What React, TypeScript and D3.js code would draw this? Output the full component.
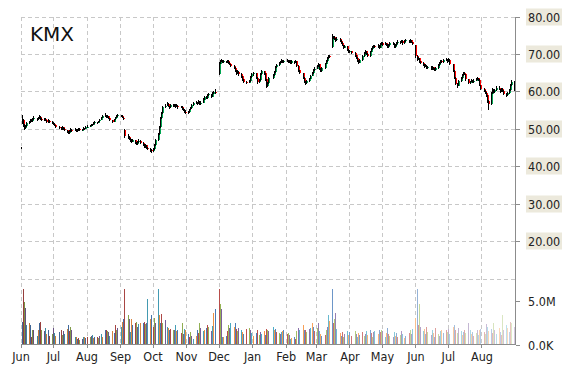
import React from "react"
import * as d3 from "d3"

const W = 570, H = 370
const X0 = 21, X1 = 515.5
const PRICE_TOP = 16.5, PRICE_BOTTOM = 278.5
const VOL_TOP = 278.5, VOL_BOTTOM = 344.5

const title = "KMX"
const monthKeys = [
  "2014-06", "2014-07", "2014-08", "2014-09", "2014-10", "2014-11", "2014-12",
  "2015-01", "2015-02", "2015-03", "2015-04", "2015-05", "2015-06", "2015-07", "2015-08",
]
const holidays = [
  "2014-07-04", "2014-09-01", "2014-11-27", "2014-12-25", "2015-01-01",
  "2015-01-19", "2015-02-16", "2015-04-03", "2015-05-25", "2015-07-03",
]

// open high low close, one string per month, one entry per trading day
const priceByMonth = [
  `51.4 53.8 51.2 52.5, 52.4 52.6 50.6 51.0, 51.0 51.2 49.6 50.2, 50.1 51.1 49.9 50.8, 50.8 51.8 50.6 51.5,
   51.5 52.1 51.2 51.8, 51.9 52.6 51.6 52.3, 52.3 52.5 51.7 52.0, 52.0 52.9 51.9 52.6, 52.6 53.3 52.4 52.9,
   52.9 53.0 52.2 52.5, 52.5 53.1 52.3 52.8, 52.8 53.6 52.6 53.2, 53.2 53.3 52.4 52.7, 52.7 52.9 52.1 52.4,
   52.4 52.9 52.2 52.6, 52.6 52.8 52.0 52.3, 52.3 52.4 51.5 51.8, 51.8 52.5 51.6 52.2, 52.2 52.3 51.6 51.9,
   51.9 52.0 51.3 51.6`,
  `51.6 51.8 51.0 51.3, 51.3 51.5 50.7 51.0, 51.0 51.1 50.3 50.6, 50.6 50.8 50.0 50.3, 50.3 50.6 49.7 50.0,
   50.0 50.7 49.8 50.4, 50.4 50.5 49.6 49.9, 49.9 50.1 49.3 49.6, 49.6 49.8 48.9 49.2, 49.2 49.4 48.5 48.9,
   48.9 49.7 48.7 49.4, 49.4 50.1 49.2 49.8, 49.8 50.0 49.2 49.5, 49.5 50.2 49.3 49.9, 49.9 50.0 49.1 49.4,
   49.4 49.9 49.2 49.7, 49.7 50.3 49.5 50.0, 50.0 50.1 49.3 49.6, 49.6 50.0 49.4 49.8, 49.8 50.5 49.6 50.2,
   50.2 50.3 49.7 50.0, 50.0 50.7 49.9 50.4`,
  `50.4 50.9 50.2 50.6, 50.6 51.1 50.4 50.9, 50.9 51.4 50.7 51.2, 51.2 51.3 50.7 51.0, 51.0 51.7 50.9 51.5,
   51.5 52.0 51.3 51.8, 51.8 51.9 51.3 51.6, 51.6 52.2 51.5 52.0, 52.0 52.6 51.9 52.4, 52.4 53.1 52.3 52.9,
   52.9 53.6 52.8 53.3, 53.3 54.1 53.1 53.6, 53.6 53.7 52.9 53.1, 53.1 53.6 52.9 53.4, 53.4 53.5 52.6 52.8,
   52.8 52.9 52.0 52.3, 52.3 52.4 51.6 51.9, 51.9 52.7 51.8 52.5, 52.5 53.2 52.4 53.0, 53.0 53.6 52.9 53.4,
   53.4 53.9 53.2 53.6`,
  `53.6 53.8 53.1 53.4, 53.4 53.6 52.8 53.0, 53.0 53.2 52.3 52.6, 49.6 49.9 47.6 48.2, 48.2 48.5 47.4 47.8,
   47.8 48.0 47.0 47.3, 47.3 47.6 46.6 47.0, 47.0 47.2 46.2 46.6, 46.6 47.3 46.4 46.9, 46.9 47.0 46.0 46.4,
   46.4 46.6 45.6 46.0, 46.0 46.8 45.8 46.5, 46.5 47.2 46.3 46.8, 46.8 46.9 46.0 46.3, 46.3 46.4 45.5 45.8,
   45.8 45.9 44.9 45.2, 45.2 45.9 45.0 45.6, 45.6 45.7 44.7 45.0, 45.0 45.2 44.2 44.7, 44.7 44.9 43.7 44.3,
   44.3 44.6 43.4 44.0`,
  `44.0 44.8 43.8 44.5, 44.5 45.9 44.3 45.6, 45.6 47.3 45.5 47.0, 47.0 48.8 46.8 48.5, 48.5 50.8 48.3 50.5,
   50.5 53.1 50.3 52.8, 52.8 54.5 52.6 54.2, 54.2 56.1 54.0 55.8, 55.8 56.6 55.5 56.2, 56.2 57.1 56.0 56.6,
   56.6 56.8 55.7 56.0, 56.0 56.2 55.4 55.8, 55.8 56.6 55.6 56.3, 56.3 56.5 55.7 56.0, 56.0 56.7 55.8 56.4,
   56.4 56.5 55.6 55.9, 55.9 56.5 55.7 56.2, 56.2 56.3 55.4 55.7, 55.7 56.2 55.5 55.9, 55.9 56.0 55.1 55.4,
   55.4 55.5 54.7 55.0, 55.0 55.2 54.2 54.6, 54.6 54.9 53.9 54.3`,
  `54.3 54.8 54.0 54.5, 54.5 55.4 54.3 55.2, 55.2 55.9 55.0 55.6, 55.6 56.6 55.4 56.3, 56.3 57.1 56.1 56.8,
   56.8 57.4 56.6 57.1, 57.1 57.2 56.4 56.7, 56.7 57.6 56.5 57.3, 57.3 57.4 56.3 56.6, 56.6 57.3 56.4 57.0,
   57.0 58.1 56.9 57.8, 57.8 58.8 57.6 58.5, 58.5 58.7 57.9 58.2, 58.2 59.2 58.0 58.9, 58.9 59.6 58.7 59.2,
   59.2 59.3 58.3 58.6, 58.6 59.7 58.5 59.4, 59.4 60.2 59.2 59.8, 59.8 60.5 59.3 59.5`,
  `64.7 67.8 64.5 67.4, 67.4 68.5 67.2 68.2, 68.2 68.7 67.8 68.3, 68.3 68.4 67.6 67.9, 67.9 68.4 67.7 68.1,
   68.1 68.2 67.5 67.8, 67.8 68.5 67.6 68.2, 68.2 68.3 67.3 67.6, 67.6 67.8 67.0 67.3, 67.3 67.4 66.5 66.8,
   66.8 67.0 65.9 66.2, 66.2 66.4 65.2 65.5, 65.5 65.7 64.5 64.8, 64.8 65.6 64.6 65.3, 65.3 65.4 64.2 64.6,
   64.6 64.8 63.7 64.0, 64.0 64.2 62.9 63.2, 63.2 63.4 62.3 62.6, 62.6 62.9 61.9 62.3, 62.3 63.1 62.1 62.8,
   62.8 64.2 62.6 63.9, 63.9 64.9 63.7 64.6`,
  `64.6 65.3 64.2 64.9, 64.9 65.0 63.3 63.6, 63.6 63.8 62.0 62.4, 62.4 63.4 62.2 63.1, 63.1 64.9 62.9 64.6,
   64.6 65.8 64.4 65.4, 65.4 65.5 64.5 64.8, 64.8 65.0 62.9 63.2, 63.2 63.4 60.8 61.4, 61.4 62.5 61.2 62.2,
   62.2 63.9 62.0 63.6, 63.6 64.6 63.4 64.3, 64.3 65.5 64.1 65.2, 65.2 66.7 65.0 66.4, 66.4 67.4 66.2 67.1,
   67.1 67.9 66.9 67.6, 67.6 68.2 67.3 67.9, 67.9 68.6 67.7 68.3, 68.3 68.4 67.5 67.8, 67.8 68.4 67.6 68.1`,
  `68.1 68.7 67.9 68.4, 68.4 68.5 67.6 67.9, 67.9 68.5 67.7 68.2, 68.2 68.3 67.3 67.6, 67.6 68.3 67.4 68.0,
   68.0 68.1 67.4 67.7, 67.7 68.4 67.5 68.1, 68.1 68.2 66.6 66.9, 66.9 67.0 65.3 65.6, 65.6 65.8 64.6 64.9,
   64.9 65.0 63.3 63.6, 63.6 63.8 62.3 62.6, 62.6 62.8 61.8 62.2, 62.2 63.1 62.0 62.8, 62.8 63.7 62.6 63.4,
   63.4 64.5 63.2 64.2, 64.2 65.2 64.0 64.9, 64.9 65.9 64.7 65.6, 65.6 66.4 65.4 66.1`,
  `66.1 67.1 65.9 66.8, 66.8 67.6 66.6 67.3, 67.3 67.4 65.7 66.0, 66.0 66.2 65.2 65.5, 65.5 66.5 65.3 66.2,
   66.2 67.7 66.0 67.4, 67.4 68.4 67.2 68.1, 68.1 69.1 67.9 68.8, 68.8 69.8 68.6 69.5, 69.5 69.7 68.8 69.1,
   71.8 75.3 71.6 74.2, 74.2 74.9 73.9 74.6, 74.6 74.7 73.7 74.0, 74.0 74.2 73.3 73.6, 73.6 74.4 73.4 74.1,
   74.1 74.2 73.1 73.4, 73.4 73.6 72.7 73.0, 73.0 73.1 72.0 72.3, 72.3 72.5 71.4 71.7, 71.7 72.3 71.5 72.0,
   72.0 72.1 70.7 71.0, 71.0 71.2 70.2 70.5`,
  `70.5 71.1 70.3 70.8, 70.8 70.9 70.0 70.3, 70.3 70.4 69.3 69.6, 69.6 69.8 68.7 69.0, 69.0 69.2 67.9 68.2,
   68.2 68.4 67.4 67.7, 67.7 68.7 67.5 68.4, 68.4 69.7 68.2 69.4, 69.4 70.6 69.2 70.3, 70.3 71.1 70.1 70.8,
   70.8 70.9 69.7 70.0, 70.0 70.2 69.2 69.5, 69.5 70.9 69.3 70.6, 70.6 71.6 70.4 71.3, 71.3 72.2 71.1 71.9,
   71.9 72.5 71.7 72.2, 72.2 72.3 71.5 71.8, 71.8 72.6 71.6 72.3, 72.3 72.4 71.4 71.7, 71.7 72.8 71.5 72.5,
   72.5 73.2 72.3 72.9`,
  `72.9 73.1 72.2 72.5, 72.5 73.2 72.3 72.9, 72.9 73.0 72.1 72.4, 72.4 72.6 71.5 71.8, 71.8 72.6 71.6 72.3,
   72.3 73.3 72.1 73.0, 73.0 73.1 72.3 72.6, 72.6 72.8 71.6 71.9, 71.9 72.7 71.7 72.4, 72.4 73.2 72.2 72.9,
   72.9 73.6 72.7 73.3, 73.3 73.4 72.7 73.0, 73.0 73.8 72.8 73.5, 73.5 73.6 72.5 72.8, 72.8 73.7 72.6 73.4,
   73.4 74.0 73.2 73.7, 73.7 73.8 72.8 73.1, 73.1 73.9 72.9 73.6, 73.6 73.7 72.9 73.2, 73.2 73.3 72.3 72.6`,
  `72.4 72.5 68.8 69.4, 69.4 69.6 68.2 68.5, 68.5 69.2 68.3 68.9, 68.9 69.0 67.7 68.0, 68.0 68.2 67.3 67.6,
   67.6 67.8 66.9 67.2, 67.2 67.4 66.3 66.6, 66.6 67.2 66.4 66.9, 66.9 67.0 66.0 66.3, 66.3 66.9 66.1 66.6,
   66.6 66.7 65.6 65.9, 65.9 66.7 65.7 66.4, 66.4 66.5 65.7 66.0, 66.0 66.2 65.4 65.7, 65.7 66.5 65.5 66.2,
   66.2 67.3 66.0 67.0, 67.0 67.9 66.8 67.6, 67.6 68.5 67.4 68.2, 68.2 68.3 67.5 67.8, 67.8 68.6 67.6 68.3,
   68.3 68.9 68.1 68.6, 68.6 68.7 67.7 68.0`,
  `68.0 68.8 67.8 68.5, 68.5 68.6 67.1 67.3, 67.3 67.4 65.1 65.4, 65.4 65.6 63.3 63.6, 63.6 63.8 61.6 62.0,
   62.0 62.3 60.8 61.5, 61.5 63.1 61.3 62.8, 62.8 63.9 62.6 63.6, 63.6 64.6 63.4 64.3, 64.3 65.3 64.1 65.0,
   65.0 65.2 64.3 64.6, 64.6 64.7 62.9 63.2, 63.2 63.3 61.9 62.2, 62.2 62.9 62.0 62.6, 62.6 63.2 62.4 62.9,
   62.9 63.0 62.2 62.5, 62.5 63.2 62.3 62.9, 62.9 63.5 62.7 63.2, 63.2 63.9 63.0 63.6, 63.6 63.7 62.8 63.1,
   63.1 63.2 61.3 61.6, 61.6 61.8 60.3 60.6`,
  `60.6 60.9 59.8 60.2, 60.2 60.4 59.3 59.6, 59.6 59.8 58.6 58.9, 58.9 59.1 57.0 57.4, 57.4 57.6 55.0 56.6,
   56.6 59.7 56.4 59.4, 59.4 60.9 59.2 60.6, 60.6 60.7 59.5 59.8, 59.8 60.6 59.6 60.4, 60.4 61.5 60.2 61.0,
   61.0 61.4 60.3 60.5, 60.5 60.7 59.6 59.9, 59.9 60.9 59.7 60.7, 60.7 60.8 59.9 60.2, 60.2 60.4 59.1 59.4,
   59.4 59.6 58.4 58.9, 58.9 59.9 58.7 59.6, 59.6 60.5 59.4 60.3, 60.3 61.9 60.1 61.6, 61.6 63.0 61.4 62.6,
   62.6 62.7 60.1 60.5`,
]

// volume in millions, same trading days
const volumeByMonth = [
  [2.6, 6.3, 4.8, 4.2, 2.2, 2.4, 2.2, 0.9, 1.7, 1.7, 1.0, 1.6, 2.4, 2.6, 1.7, 1.5, 1.9, 1.2, 1.6, 1.0, 1.2],
  [1.9, 1.3, 1.0, 1.4, 1.6, 1.1, 1.5, 1.2, 1.8, 2.2, 1.5, 2.0, 1.6, 0.8, 0.9, 0.6, 0.7, 0.5, 0.6, 0.9, 0.8, 0.7],
  [0.8, 0.9, 1.0, 1.1, 0.7, 0.8, 0.9, 0.7, 1.0, 1.2, 0.8, 1.6, 1.7, 1.5, 1.4, 1.0, 1.5, 1.3, 2.2, 1.6, 1.9],
  [2.0, 2.6, 2.9, 6.3, 3.4, 2.9, 1.4, 2.9, 2.2, 2.4, 2.6, 2.0, 2.3, 2.5, 2.4, 2.6, 2.3, 2.5, 5.2, 2.9, 3.4],
  [2.0, 3.0, 2.5, 6.3, 3.3, 2.5, 3.5, 2.4, 2.8, 2.0, 1.9, 1.6, 1.8, 1.7, 1.6, 2.2, 1.5, 1.6, 1.3, 2.4, 1.2, 1.8, 1.7],
  [1.2, 0.8, 1.4, 1.0, 0.6, 1.0, 1.7, 1.3, 2.5, 1.9, 1.5, 1.6, 1.9, 2.2, 2.0, 1.5, 2.1, 3.6, 4.0],
  [6.3, 4.6, 4.0, 0.9, 0.8, 1.0, 1.5, 2.2, 1.9, 2.5, 2.0, 2.5, 1.8, 1.5, 1.9, 1.7, 1.4, 1.2, 1.8, 1.9, 1.6, 1.3],
  [1.0, 1.3, 1.6, 1.1, 1.4, 1.2, 1.5, 1.1, 1.8, 1.7, 1.5, 2.0, 1.6, 1.8, 1.4, 1.3, 1.2, 1.4, 1.5, 1.6],
  [1.2, 1.3, 1.1, 0.6, 0.7, 0.8, 0.6, 1.5, 1.9, 1.6, 2.2, 1.7, 1.6, 1.4, 1.8, 1.9, 2.4, 2.0, 1.5],
  [1.9, 2.4, 1.5, 1.2, 1.0, 1.1, 1.6, 2.0, 3.4, 2.7, 6.3, 2.4, 2.9, 3.6, 1.8, 1.3, 1.0, 1.4, 0.9, 1.2, 1.5, 1.1],
  [1.4, 1.0, 1.5, 1.2, 0.9, 1.3, 1.1, 1.4, 1.0, 1.2, 1.5, 1.1, 1.6, 1.3, 0.9, 1.4, 1.5, 1.2, 1.6, 1.4, 1.7],
  [1.5, 0.9, 1.3, 1.9, 1.2, 1.0, 0.8, 1.4, 1.0, 1.3, 0.9, 1.1, 1.5, 1.2, 0.7, 1.0, 1.3, 1.6, 1.2, 1.8],
  [3.0, 6.3, 2.2, 4.6, 2.0, 1.5, 1.8, 1.2, 2.0, 1.4, 1.1, 1.6, 1.3, 0.9, 1.9, 1.2, 1.0, 1.5, 1.7, 1.3, 1.6, 1.4],
  [1.8, 1.2, 2.0, 2.2, 1.6, 1.3, 1.9, 1.5, 1.1, 1.4, 1.7, 1.3, 2.5, 1.6, 1.2, 1.4, 1.0, 1.3, 1.7, 1.1, 1.6, 1.8],
  [1.4, 1.2, 2.3, 2.0, 1.5, 1.8, 1.3, 2.5, 1.6, 1.2, 1.9, 1.4, 1.1, 3.3, 1.7, 2.2, 1.9, 1.4, 2.6, 2.4, 2.0],
]

// a lone tick sitting at the very start of the series
const strayDate = "2014-06-01"
const strayOhlc = [44.9, 45.1, 44.6, 44.8]

const priceTicks = [20, 30, 40, 50, 60, 70, 80]
const priceGrid = [10, 20, 30, 40, 50, 60, 70, 80]
const volumeTicks = [0, 5]
const volumeTickLabels = ["0.0K", "5.0M"]
const palette = ["#4F81BD", "#C0504D", "#9BBB59", "#8064A2", "#4BACC6", "#F79646"]

const UP = "#00a651", DOWN = "#ff0000"
const GRID = "#c8c8c8", AXIS = "#8c8c8c", TEXT = "#222"
const LABEL_FONT = "'DejaVu Sans Condensed', 'DejaVu Sans', sans-serif"

const parseDay = d3.timeParse("%Y-%m-%d")
const parseMonth = d3.timeParse("%Y-%m")
const fmtDay = d3.timeFormat("%Y-%m-%d")

function tradingDays(key: string): Date[] {
  const start = parseMonth(key)!
  return d3.timeDay.range(start, d3.timeMonth.offset(start, 1))
    .filter(d => d.getDay() !== 0 && d.getDay() !== 6 && !holidays.includes(fmtDay(d)))
}

interface Bar { date: Date; o: number; h: number; l: number; c: number; v: number }

const bars: Bar[] = monthKeys.flatMap((key, m) => {
  const days = tradingDays(key)
  const rows = priceByMonth[m].split(",").map(s => s.trim().split(/\s+/).map(Number))
  return rows.map((r, i) => ({ date: days[i], o: r[0], h: r[1], l: r[2], c: r[3], v: volumeByMonth[m][i] }))
})

export default function App() {
  const x = d3.scaleTime()
    .domain([parseDay("2014-06-01")!, parseDay("2015-09-01")!])
    .range([X0, X1])
  const y = d3.scaleLinear().domain([10, 80]).range([PRICE_BOTTOM, PRICE_TOP])
  const yv = d3.scaleLinear().domain([0, 7.5]).range([VOL_BOTTOM, VOL_TOP])
  const months = d3.timeMonth.range(x.domain()[0], x.domain()[1])
  const fmtMonth = d3.timeFormat("%b")

  const n = bars.length
  // volume bars fade from dark shades to pastel tints along the series
  const volColor = (i: number) => {
    const base = d3.color(palette[i % palette.length])!
    const ramp = d3.piecewise(d3.interpolateRgb, [
      base.darker(0.7).formatHex(), base.formatHex(), d3.interpolateRgb(base.formatHex(), "#ffffff")(0.66),
    ])
    return ramp(i / (n - 1))
  }

  const px = (d: Date) => Math.floor(x(d)) + 0.5
  const stray = parseDay(strayDate)!

  return (
    <svg width={W} height={H} style={{ position: "absolute", left: 0, top: 0, background: "#fff" }}>
      {/* grid */}
      <g stroke={GRID} strokeDasharray="4,3" shapeRendering="crispEdges">
        {priceGrid.map(t => (
          <line key={t} x1={X0} x2={X1} y1={Math.round(y(t)) + 0.5} y2={Math.round(y(t)) + 0.5} />
        ))}
        {months.map(m => (
          <line key={+m} x1={px(m)} x2={px(m)} y1={PRICE_TOP} y2={VOL_BOTTOM} />
        ))}
      </g>

      <text x={30} y={41} fontFamily="'DejaVu Sans', sans-serif" fontSize={20} fill="#111">{title}</text>

      {/* volume */}
      <g shapeRendering="crispEdges">
        {bars.map((b, i) => (
          <rect key={i} x={Math.floor(x(b.date))} width={1.3} y={yv(b.v)} height={VOL_BOTTOM - yv(b.v)} fill={volColor(i)} />
        ))}
      </g>

      {/* candles */}
      <g shapeRendering="crispEdges">
        <line x1={px(stray)} x2={px(stray)} y1={y(strayOhlc[1])} y2={y(strayOhlc[2])} stroke="#000" />
        {bars.map((b, i) => {
          const cx = px(b.date)
          const top = y(Math.max(b.o, b.c)), bot = y(Math.min(b.o, b.c))
          return (
            <g key={i}>
              <line x1={cx} x2={cx} y1={y(b.h)} y2={y(b.l)} stroke="#000" />
              <rect x={cx + 0.5} width={1} y={top} height={Math.max(1, bot - top)} fill={b.c >= b.o ? UP : DOWN} />
            </g>
          )
        })}
      </g>

      {/* axes */}
      <g stroke={AXIS} shapeRendering="crispEdges">
        <line x1={X1} x2={X1} y1={PRICE_TOP} y2={VOL_BOTTOM} />
        <line x1={X0} x2={X1} y1={VOL_BOTTOM} y2={VOL_BOTTOM} />
        {months.map(m => (
          <line key={+m} x1={px(m)} x2={px(m)} y1={VOL_BOTTOM} y2={VOL_BOTTOM + 3} />
        ))}
        {priceTicks.map(t => (
          <line key={t} x1={X1} x2={X1 + 4} y1={Math.round(y(t)) + 0.5} y2={Math.round(y(t)) + 0.5} />
        ))}
        {volumeTicks.map(t => (
          <line key={t} x1={X1} x2={X1 + 4} y1={Math.round(yv(t)) + 0.5} y2={Math.round(yv(t)) + 0.5} />
        ))}
      </g>

      <g fontFamily={LABEL_FONT} fontSize={12.5} fill={TEXT}>
        {priceTicks.map(t => (
          <g key={t} transform={`translate(526,${Math.round(y(t))})`}>
            <rect x={0} y={-8.5} width={36} height={17} fill="#ece9dc" />
            <text x={2} y={4.5}>{t.toFixed(2)}</text>
          </g>
        ))}
        {volumeTicks.map((t, i) => (
          <text key={t} x={528} y={Math.round(yv(t)) + 4.5}>{volumeTickLabels[i]}</text>
        ))}
        {months.map(m => (
          <text key={+m} x={x(m)} y={361} textAnchor="middle">{fmtMonth(m)}</text>
        ))}
      </g>
    </svg>
  )
}
